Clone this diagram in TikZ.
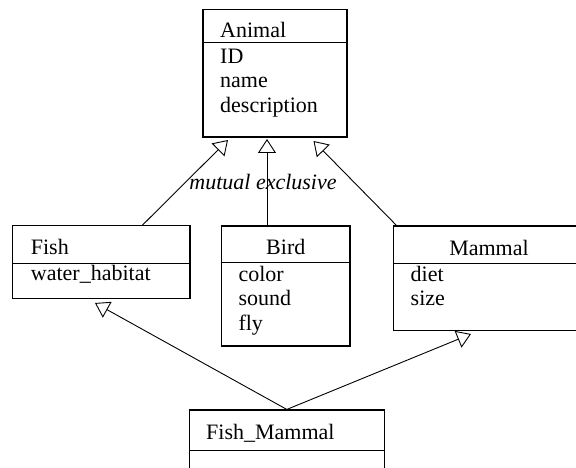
\documentclass[tikz,border=0pt]{standalone}
\usepackage{fontspec}
\setmainfont{Liberation Serif}
\usepackage{tikz}
\usetikzlibrary{arrows.meta, positioning, calc}
\newcommand{\umlfont}{\fontsize{22}{24.5}\selectfont}
\tikzset{
  classbox/.style={rectangle, draw=black, line width=1.1pt, inner sep=0pt},
  classname/.style={font=\umlfont, inner sep=0pt},
  attrs/.style={font=\umlfont, align=left, inner sep=0pt},
  sepline/.style={line width=1.1pt},
  isa/.style={-{Triangle[open, length=14pt, width=18pt]}, line width=0.9pt}
}

\begin{document}
\begin{tikzpicture}[x=1pt, y=1pt]
  \useasboundingbox (0,0) rectangle (576,468);
  \clip (0,0) rectangle (576,468);

  % class boxes
  \node[classbox, minimum width=144pt, minimum height=127.5pt] (animal) at (275,394.75) {};
  \node[classbox, minimum width=177.3pt, minimum height=72.8pt] (fish) at (101.35,205.9) {};
  \node[classbox, minimum width=128.3pt, minimum height=120pt] (bird) at (285.85,182) {};
  \node[classbox, minimum width=191.7pt, minimum height=104.5pt] (mammal) at (489.2,189.75) {};
  \node[classbox, minimum width=195pt, minimum height=88pt] (fishmammal) at (286.8,14) {};

  % name / attribute separators
  \draw[sepline] (animal.north west) ++(0,-33.5) -- ++(144,0);
  \draw[sepline] (fish.north west) ++(0,-38.3) -- ++(177.3,0);
  \draw[sepline] (bird.north west) ++(0,-36.7) -- ++(128.3,0);
  \draw[sepline] (mammal.north west) ++(0,-38) -- ++(191.7,0);
  \draw[sepline] (fishmammal.north west) ++(0,-41) -- ++(195,0);

  % names
  \node[classname, anchor=base west] (animal-name) at (220,430.7) {Animal};
  \node[classname, anchor=base west] (fish-name) at (30.7,213.7) {Fish};
  \node[classname, anchor=base] (bird-name) at (285.8,213) {Bird};
  \node[classname, anchor=base] (mammal-name) at (489,212.5) {Mammal};
  \node[classname, anchor=base west] (fishmammal-name) at (206,28) {Fish\_Mammal};

  % attributes (base = last line)
  \node[attrs, anchor=base west] (animal-attr) at (220,355.5) {ID\\name\\description};
  \node[attrs, anchor=base west] (fish-attr) at (30.7,187) {water\_habitat};
  \node[attrs, anchor=base west] (bird-attr) at (238.3,137.5) {color\\sound\\fly};
  \node[attrs, anchor=base west] (mammal-attr) at (410.5,162) {diet\\size};

  % generalisation
  \coordinate (animal-l) at (228,328);
  \coordinate (animal-m) at (267,329);
  \coordinate (animal-r) at (313.5,327);
  \coordinate (fish-tip) at (95,165);
  \coordinate (mammal-tip) at (471,134);

  \draw[isa] (fish.north west) ++(130.3,0) -- (animal-l);
  \draw[isa] (bird.north -| animal-m) -- (animal-m);
  \draw[isa] (mammal.north west) ++(3.7,0) -- (animal-r);
  \draw[isa] (fishmammal.north) -- (fish-tip);
  \draw[isa] (fishmammal.north) -- (mammal-tip);

  \node[classname, anchor=base, font=\umlfont\itshape] (excl) at (263,278) {mutual exclusive};
\end{tikzpicture}
\end{document}
